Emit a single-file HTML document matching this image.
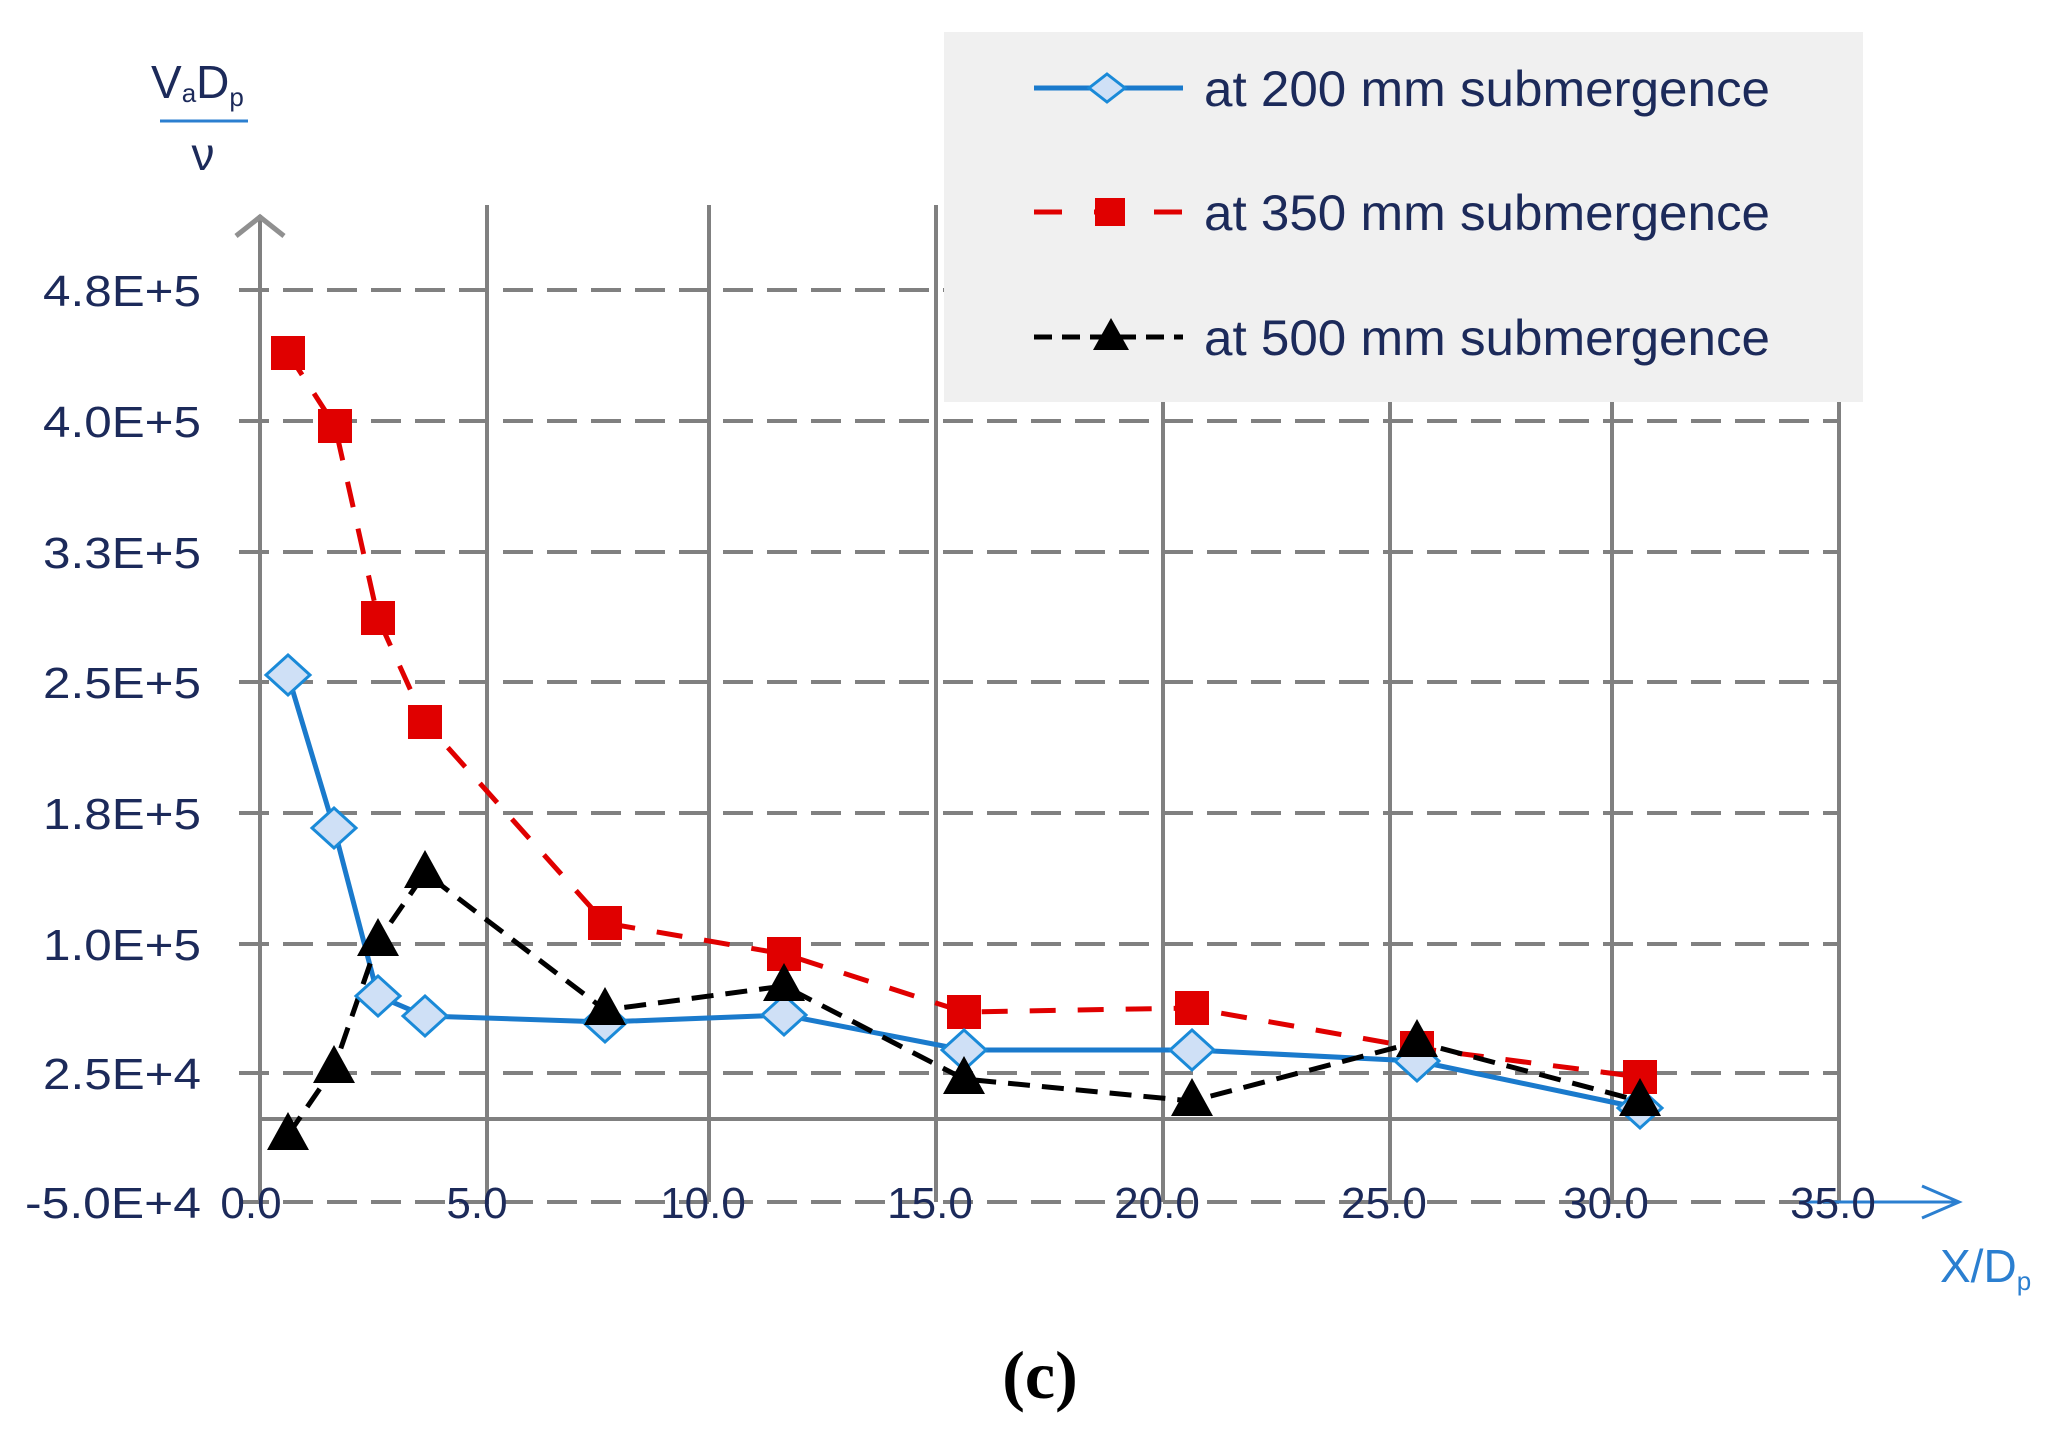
<!DOCTYPE html>
<html><head><meta charset="utf-8"><style>body{margin:0;background:#fff}svg{display:block}</style></head><body>
<svg width="2055" height="1433" viewBox="0 0 2055 1433" xmlns="http://www.w3.org/2000/svg" font-family="Liberation Sans, sans-serif">
<rect width="2055" height="1433" fill="#fff"/>
<rect x="944" y="32" width="919" height="370" fill="#f0f0f0"/>
<g stroke="#808080" stroke-width="4" stroke-dasharray="30,14">
<line x1="239" y1="290" x2="944" y2="290"/>
<line x1="239" y1="421" x2="1839" y2="421"/>
<line x1="239" y1="552" x2="1839" y2="552"/>
<line x1="239" y1="682" x2="1839" y2="682"/>
<line x1="239" y1="813" x2="1839" y2="813"/>
<line x1="239" y1="944" x2="1839" y2="944"/>
<line x1="239" y1="1073" x2="1839" y2="1073"/>
<line x1="239" y1="1202" x2="1839" y2="1202"/>
</g>
<line x1="262" y1="1119" x2="1839" y2="1119" stroke="#808080" stroke-width="4"/>
<g stroke="#808080" stroke-width="4">
<line x1="487" y1="205" x2="487" y2="1202"/>
<line x1="709" y1="205" x2="709" y2="1202"/>
<line x1="936" y1="205" x2="936" y2="1202"/>
<line x1="1163" y1="402" x2="1163" y2="1202"/>
<line x1="1390" y1="402" x2="1390" y2="1202"/>
<line x1="1612" y1="402" x2="1612" y2="1202"/>
<line x1="1839" y1="402" x2="1839" y2="1202"/>
<line x1="260" y1="215" x2="260" y2="1202"/>
</g>
<polyline points="236,236 260,217 284,236" fill="none" stroke="#909090" stroke-width="5"/>
<line x1="1800" y1="1202" x2="1959" y2="1202" stroke="#2b7fd0" stroke-width="3"/>
<polyline points="1922,1186 1959,1202 1922,1218" fill="none" stroke="#2b7fd0" stroke-width="3"/>
<g font-size="44" fill="#1c2a5a" text-anchor="end">
<text x="201" y="306" textLength="158" lengthAdjust="spacingAndGlyphs">4.8E+5</text>
<text x="201" y="437" textLength="158" lengthAdjust="spacingAndGlyphs">4.0E+5</text>
<text x="201" y="568" textLength="158" lengthAdjust="spacingAndGlyphs">3.3E+5</text>
<text x="201" y="698" textLength="158" lengthAdjust="spacingAndGlyphs">2.5E+5</text>
<text x="201" y="829" textLength="158" lengthAdjust="spacingAndGlyphs">1.8E+5</text>
<text x="201" y="960" textLength="158" lengthAdjust="spacingAndGlyphs">1.0E+5</text>
<text x="201" y="1089" textLength="158" lengthAdjust="spacingAndGlyphs">2.5E+4</text>
<text x="201" y="1218" textLength="176" lengthAdjust="spacingAndGlyphs">-5.0E+4</text>
</g>
<g font-size="44" fill="#1c2a5a" text-anchor="middle">
<text x="251" y="1218">0.0</text>
<text x="477" y="1218">5.0</text>
<text x="703" y="1218">10.0</text>
<text x="930" y="1218">15.0</text>
<text x="1157" y="1218">20.0</text>
<text x="1384" y="1218">25.0</text>
<text x="1606" y="1218">30.0</text>
<text x="1833" y="1218">35.0</text>
</g>
<text x="151" y="98" font-size="46" fill="#1c2a5a">V<tspan font-size="26" dy="4">a</tspan><tspan dy="-4">D</tspan><tspan font-size="26" dy="8">p</tspan></text>
<line x1="160" y1="121" x2="248" y2="121" stroke="#2b7fd0" stroke-width="3"/>
<text x="203" y="170" font-size="46" fill="#1c2a5a" text-anchor="middle">ν</text>
<text x="1940" y="1282" font-size="46" fill="#2b7fd0">X/D<tspan font-size="26" dy="8">p</tspan></text>
<text x="1040" y="1398" font-size="68" font-weight="bold" font-family="Liberation Serif, serif" text-anchor="middle">(c)</text>
<polyline points="288,353 335,426 378,618 425,722 605,923 784,954 964,1012 1192,1008 1417,1048 1640,1077" fill="none" stroke="#e00000" stroke-width="5" stroke-dasharray="26,22"/>
<polyline points="288,675 334,828 378,996 425,1016 605,1022 784,1015 964,1050 1192,1050 1417,1061 1640,1108" fill="none" stroke="#1a7acc" stroke-width="5"/>
<polyline points="288,1135 334,1068 378,941 425,873 605,1010 784,986 964,1079 1192,1101 1417,1042 1640,1101" fill="none" stroke="#000" stroke-width="5" stroke-dasharray="22,12"/>
<g fill="#e00000">
<rect x="271" y="336" width="34" height="34"/><rect x="318" y="409" width="34" height="34"/><rect x="361" y="601" width="34" height="34"/><rect x="408" y="705" width="34" height="34"/><rect x="588" y="906" width="34" height="34"/><rect x="767" y="937" width="34" height="34"/><rect x="947" y="995" width="34" height="34"/><rect x="1175" y="991" width="34" height="34"/><rect x="1400" y="1031" width="34" height="34"/><rect x="1623" y="1060" width="34" height="34"/>
</g>
<g fill="#cfe0f6" stroke="#1a8ad8" stroke-width="3">
<path d="M288,655 l22,20 l-22,20 l-22,-20z"/><path d="M334,808 l22,20 l-22,20 l-22,-20z"/><path d="M378,976 l22,20 l-22,20 l-22,-20z"/><path d="M425,996 l22,20 l-22,20 l-22,-20z"/><path d="M605,1002 l22,20 l-22,20 l-22,-20z"/><path d="M784,995 l22,20 l-22,20 l-22,-20z"/><path d="M964,1030 l22,20 l-22,20 l-22,-20z"/><path d="M1192,1030 l22,20 l-22,20 l-22,-20z"/><path d="M1417,1041 l22,20 l-22,20 l-22,-20z"/><path d="M1640,1088 l22,20 l-22,20 l-22,-20z"/>
</g>
<g fill="#000">
<path d="M288,1112 l21,38 h-42z"/><path d="M334,1045 l21,38 h-42z"/><path d="M378,918 l21,38 h-42z"/><path d="M425,850 l21,38 h-42z"/><path d="M605,987 l21,38 h-42z"/><path d="M784,963 l21,38 h-42z"/><path d="M964,1056 l21,38 h-42z"/><path d="M1192,1078 l21,38 h-42z"/><path d="M1417,1019 l21,38 h-42z"/><path d="M1640,1078 l21,38 h-42z"/>
</g>
<line x1="1034" y1="88" x2="1183" y2="88" stroke="#1a7acc" stroke-width="5"/>
<path d="M1107,74 l18,14 l-18,14 l-18,-14z" fill="#cfe0f6" stroke="#1a8ad8" stroke-width="3"/>
<line x1="1034" y1="212" x2="1183" y2="212" stroke="#e00000" stroke-width="5" stroke-dasharray="28,32"/>
<rect x="1095" y="198" width="30" height="28" fill="#e00000"/>
<line x1="1034" y1="337" x2="1183" y2="337" stroke="#000" stroke-width="5" stroke-dasharray="18,10"/>
<path d="M1111,318 l18,32 h-36z" fill="#000"/>
<g font-size="50" fill="#1c2a5a">
<text x="1204" y="106" textLength="566" lengthAdjust="spacingAndGlyphs">at 200 mm submergence</text>
<text x="1204" y="230" textLength="566" lengthAdjust="spacingAndGlyphs">at 350 mm submergence</text>
<text x="1204" y="355" textLength="566" lengthAdjust="spacingAndGlyphs">at 500 mm submergence</text>
</g>
</svg>
</body></html>
